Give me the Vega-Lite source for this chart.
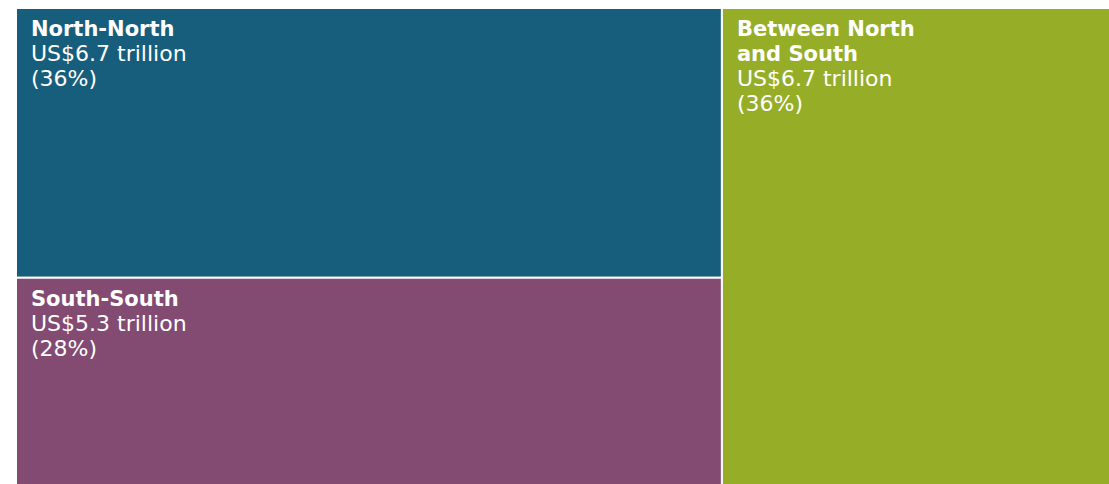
{
  "$schema": "https://vega.github.io/schema/vega-lite/v6.json",
  "width": 1093,
  "height": 476,
  "autosize": {"type": "none"},
  "padding": {"left": 16, "top": 8, "right": 0, "bottom": 0},
  "background": "white",
  "config": {"view": {"stroke": null}},
  "data": {
    "values": [
      {"flow": "North-North", "block": "A", "value": 6.7, "title": ["North-North"], "detail": ["US$6.7 trillion", "(36%)"]},
      {"flow": "South-South", "block": "A", "value": 5.3, "title": ["South-South"], "detail": ["US$5.3 trillion", "(28%)"]},
      {"flow": "Between North and South", "block": "B", "value": 6.7, "title": ["Between North", "and South"], "detail": ["US$6.7 trillion", "(36%)"]}
    ]
  },
  "transform": [
    {"joinaggregate": [{"op": "sum", "field": "value", "as": "gtotal"}], "groupby": ["block"]},
    {"window": [{"op": "sum", "field": "value", "as": "gend"}], "sort": [{"field": "block", "order": "ascending"}], "frame": [null, 0], "ignorePeers": false},
    {"calculate": "datum.gend - datum.gtotal", "as": "gstart"},
    {"stack": "value", "groupby": ["block"], "sort": [{"field": "value", "order": "descending"}], "offset": "normalize", "as": ["ys", "ye"]}
  ],
  "encoding": {
    "x": {"field": "gstart", "type": "quantitative", "axis": null, "scale": {"domain": [0, 18.58], "nice": false, "zero": false}},
    "y": {"field": "ys", "type": "quantitative", "axis": null, "scale": {"domain": [0, 0.985], "nice": false, "reverse": true}}
  },
  "layer": [
    {
      "mark": {"type": "rect", "stroke": "white", "strokeWidth": 2, "clip": true},
      "encoding": {
        "x2": {"field": "gend"},
        "y2": {"field": "ye"},
        "color": {
          "field": "flow",
          "type": "nominal",
          "legend": null,
          "scale": {
            "domain": ["North-North", "South-South", "Between North and South"],
            "range": ["#175e7c", "#834a72", "#96ae27"]
          }
        }
      }
    },
    {
      "mark": {"type": "text", "align": "left", "baseline": "alphabetic", "dx": 15, "dy": 28, "font": "DejaVu Sans", "fontWeight": "bold", "fontSize": 21, "lineHeight": 25, "color": "white"},
      "encoding": {"text": {"field": "title"}}
    },
    {
      "transform": [{"filter": "datum.block == 'A'"}],
      "mark": {"type": "text", "align": "left", "baseline": "alphabetic", "dx": 15, "dy": 53, "font": "DejaVu Sans", "fontSize": 22, "lineHeight": 25, "color": "white"},
      "encoding": {"text": {"field": "detail"}}
    },
    {
      "transform": [{"filter": "datum.block == 'B'"}],
      "mark": {"type": "text", "align": "left", "baseline": "alphabetic", "dx": 15, "dy": 78, "font": "DejaVu Sans", "fontSize": 22, "lineHeight": 25, "color": "white"},
      "encoding": {"text": {"field": "detail"}}
    }
  ]
}
